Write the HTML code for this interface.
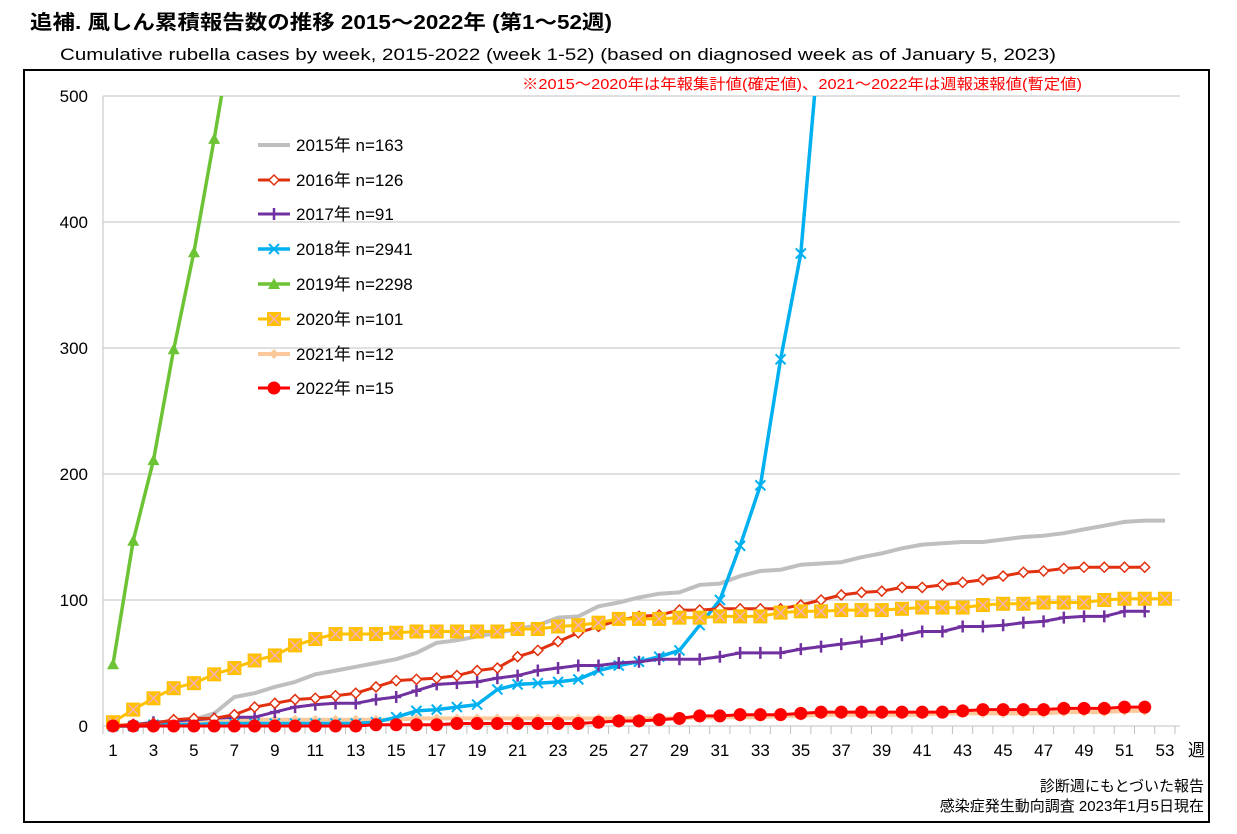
<!DOCTYPE html>
<html><head><meta charset="utf-8"><style>
body{margin:0;background:#fff;width:1237px;height:829px;overflow:hidden;font-family:"Liberation Sans","Noto Sans CJK JP",sans-serif}
</style></head><body>
<svg id="s" width="1237" height="829" xmlns="http://www.w3.org/2000/svg" font-family="Liberation Sans, Noto Sans CJK JP, sans-serif">
<text x="30" y="29" font-size="20" font-weight="bold" fill="#000" textLength="582" lengthAdjust="spacingAndGlyphs">追補. 風しん累積報告数の推移  2015～2022年 (第1～52週)</text>
<text x="60" y="60" font-size="17" fill="#000" textLength="996" lengthAdjust="spacingAndGlyphs">Cumulative rubella cases by week, 2015-2022 (week 1-52)  (based on diagnosed week as of January 5, 2023)</text>
<rect x="24" y="70" width="1185" height="752" fill="none" stroke="#000" stroke-width="2"/>
<text x="522" y="89" font-size="15" fill="#ff0000" textLength="560" lengthAdjust="spacingAndGlyphs">※2015～2020年は年報集計値(確定値)、2021～2022年は週報速報値(暫定値)</text>
<g id="grid" stroke="#c0c0c0" stroke-width="1"></g>
<g font-size="17" fill="#000" text-anchor="end">
<text x="88" y="102">500</text><text x="88" y="228">400</text><text x="88" y="354">300</text><text x="88" y="480">200</text><text x="88" y="606">100</text><text x="88" y="732">0</text>
</g>
<g id="xl" font-size="17" fill="#000" text-anchor="middle"></g>
<text x="1188" y="756" font-size="17">週</text>
<g id="ser"></g>
<g font-size="17" fill="#000">
<text x="296" y="151">2015年 n=163</text><text x="296" y="186">2016年 n=126</text><text x="296" y="220">2017年 n=91</text><text x="296" y="255">2018年 n=2941</text><text x="296" y="290">2019年 n=2298</text><text x="296" y="325">2020年 n=101</text><text x="296" y="360">2021年 n=12</text><text x="296" y="394">2022年 n=15</text>
</g>
<g font-size="15" fill="#000" text-anchor="end">
<text x="1204" y="791">診断週にもとづいた報告</text>
<text x="1204" y="811">感染症発生動向調査 2023年1月5日現在</text>
</g>
</svg>
<script>
var NS="http://www.w3.org/2000/svg",s=document.getElementById('ser');
function X(w){return 113+(w-1)*20.23}function Y(v){return 726-v*1.26}
function el(p,t,a){var e=document.createElementNS(NS,t);for(var k in a)e.setAttribute(k,a[k]);p.appendChild(e);return e}
var g=document.getElementById('grid');
[100,200,300,400,500].forEach(function(v){el(g,'line',{x1:103,x2:1180,y1:Y(v),y2:Y(v)})});
el(g,'line',{x1:103,x2:103,y1:96,y2:732});el(g,'line',{x1:103,x2:1180,y1:726,y2:726});
for(var w=0;w<=53;w++){var xx=w==0?103:X(w)+10;el(g,'line',{x1:xx,x2:xx,y1:726,y2:734})}
var xl=document.getElementById('xl');
for(var w=1;w<=53;w+=2){var t=el(xl,'text',{x:X(w),y:756});t.textContent=w}
var D={
a:[0,0,0,2,5,10,23,26,31,35,41,44,47,50,53,58,66,68,71,74,77,80,86,87,95,98,102,105,106,112,113,119,123,124,128,129,130,134,137,141,144,145,146,146,148,150,151,153,156,159,162,163,163],
b:[0,1,2,5,6,6,9,15,18,21,22,24,26,31,36,37,38,40,44,46,55,60,67,74,79,84,87,88,92,92,93,93,93,93,96,100,104,106,107,110,110,112,114,116,119,122,123,125,126,126,126,126],
c:[0,1,3,4,5,6,7,7,11,15,17,18,18,21,23,28,33,34,35,38,40,44,46,48,48,50,51,53,53,53,55,58,58,58,61,63,65,67,69,72,75,75,79,79,80,82,83,86,87,87,91,91],
d:[0,0,1,1,1,2,2,2,2,2,2,2,2,3,7,12,13,15,17,29,33,34,35,37,44,48,51,55,60,80,100,143,191,291,375,560],
e:[49,147,211,299,376,466,560],
f:[3,13,22,30,34,41,46,52,56,64,69,73,73,73,74,75,75,75,75,75,77,77,79,80,82,85,85,85,86,86,87,87,87,90,91,91,92,92,92,93,94,94,94,96,97,97,98,98,98,100,101,101,101],
h:[1,1,2,2,3,3,4,5,5,5,5,5,5,5,5,6,6,6,6,6,6,6,6,6,6,6,6,6,6,7,7,7,7,8,8,9,9,9,9,9,9,10,10,10,10,10,10,11,11,11,12,12],
i:[0,0,0,0,0,0,0,0,0,0,0,0,0,1,1,1,1,2,2,2,2,2,2,2,3,4,4,5,6,8,8,9,9,9,10,11,11,11,11,11,11,11,12,13,13,13,13,14,14,14,15,15]};
var clip=el(s,'clipPath',{id:'cp'});el(clip,'rect',{x:100,y:96,width:1090,height:640});
function marker(p,k,x,y){
 if(k=='b')el(p,'path',{d:'M'+x+' '+(y-5)+'l5 5l-5 5l-5-5z',fill:'#fff',stroke:'#e2310e','stroke-width':1.5});
 if(k=='c')el(p,'path',{d:'M'+(x-5)+' '+y+'h10M'+x+' '+(y-6)+'v12',stroke:'#7030a0','stroke-width':2.5});
 if(k=='d')el(p,'path',{d:'M'+(x-5)+' '+(y-5)+'l10 10M'+(x+5)+' '+(y-5)+'l-10 10',stroke:'#00b0f0','stroke-width':2});
 if(k=='e')el(p,'path',{d:'M'+x+' '+(y-6)+'l6 11h-12z',fill:'#6cc334'});
 if(k=='f'){el(p,'rect',{x:x-7,y:y-7,width:14,height:14,fill:'#ffc000'});el(p,'path',{d:'M'+(x-5)+' '+(y-5)+'l10 10M'+(x+5)+' '+(y-5)+'l-10 10',stroke:'#f4b0b0','stroke-width':1.5});}
 if(k=='h')el(p,'path',{d:'M'+x+' '+(y-5)+'l5 5l-5 5l-5-5z',fill:'#fbc99b'});
 if(k=='i')el(p,'circle',{cx:x,cy:y,r:6.5,fill:'#ff0000'});
}
var C={a:['#bfbfbf',4],b:['#e2310e',3],c:['#7030a0',3],d:['#00b0f0',3.5],e:['#6cc334',3.5],f:['#ffc000',3],h:['#fbc99b',4],i:['#ff0000',3]};
var order=['h','a','d','c','b','f','e','i'];
var lg={a:145,b:180,c:214,d:249,e:284,f:319,h:354,i:388};
order.forEach(function(k){
 var gg=el(s,'g',{'clip-path':'url(#cp)'});
 var pts=D[k].map(function(v,j){return X(j+1).toFixed(1)+','+Y(v).toFixed(1)}).join(' ');
 el(gg,'polyline',{points:pts,fill:'none',stroke:C[k][0],'stroke-width':C[k][1],'stroke-linejoin':'round'});
 if(k!='a')D[k].forEach(function(v,j){marker(gg,k,X(j+1),Y(v))});
});
order.forEach(function(k){
 var y=lg[k];el(s,'line',{x1:258,x2:290,y1:y,y2:y,stroke:C[k][0],'stroke-width':C[k][1]});
 if(k!='a')marker(s,k,274,y);
});
</script>
</body></html>
